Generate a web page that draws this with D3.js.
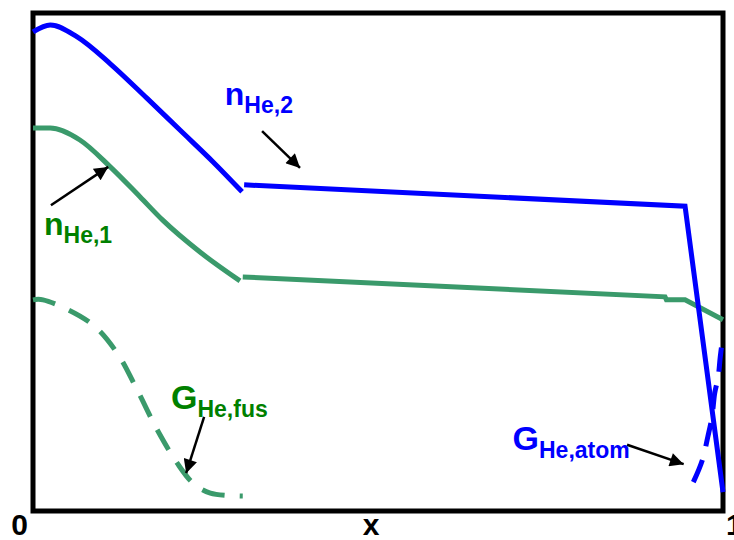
<!DOCTYPE html>
<html>
<head>
<meta charset="utf-8">
<script src="https://cdn.jsdelivr.net/npm/d3@7"></script>
<style>
  body { margin: 0; background: #fff; }
  text { font-family: Arial, "Liberation Sans", sans-serif; font-weight: bold; }
</style>
</head>
<body>
<div id="chart"></div>
<script>
// profiles, x from 0 to 1, y in arbitrary units 0..100
var nHe2_core_x = [0, 0.025, 0.064, 0.112, 0.165, 0.213, 0.261, 0.303];
var nHe2_core_y = [96.2, 97.6, 95.2, 89.8, 82.9, 76.5, 70.1, 64.1];
var nHe2_edge_x = [0.306, 0.945, 1.0];
var nHe2_edge_y = [65.5, 61.2, 3.8];

var nHe1_core_x = [0, 0.025, 0.068, 0.112, 0.155, 0.188, 0.242, 0.300];
var nHe1_core_y = [76.9, 76.9, 74.5, 69.1, 63.1, 58.4, 52.0, 46.2];
var nHe1_edge_x = [0.304, 0.916, 0.918, 0.945, 1.0];
var nHe1_edge_y = [47.0, 43.0, 42.4, 42.4, 38.4];

var gFus_x = [0, 0.0145, 0.083, 0.122, 0.151, 0.180, 0.209, 0.232, 0.257, 0.304];
var gFus_y = [42.4, 42.4, 37.8, 31.7, 24.3, 16.3, 9.6, 5.6, 3.6, 3.0];

var gAtom_x = [0.957, 0.970, 0.978, 0.984, 0.988, 0.993, 0.996, 1.0];
var gAtom_y = [5.8, 10.2, 14.9, 18.9, 23.7, 26.9, 30.9, 35.3];

// labels: main letter, subscript, anchor (data units)
var labelMain = ["n", "n", "G", "G"];
var labelSub = ["He,2", "He,1", "He,fus", "He,atom"];
var labelX = [0.278, 0.016, 0.200, 0.695];
var labelY = [81.5, 55.4, 20.5, 12.2];

// arrows from label to curve (data units)
var arrowX1 = [0.332, 0.026, 0.248, 0.861];
var arrowY1 = [76.3, 61.4, 18.9, 13.3];
var arrowX2 = [0.387, 0.109, 0.222, 0.943];
var arrowY2 = [68.9, 69.1, 7.6, 9.4];

var axisLabels = ["0", "x", "1"];
var axisLabelX = [0, 0.49, 1];

var blue = "#0000ff", green = "#3a9a6b", textGreen = "#008000";

var svg = d3.select("#chart").append("svg")
    .attr("width", 734)
    .attr("height", 540);

var x = d3.scaleLinear().domain([0, 1]).range([33, 723]);
var y = d3.scaleLinear().domain([0, 100]).range([511, 13]);

function pts(xs, ys) {
  return xs.map(function(d, i) { return [d, ys[i]]; });
}

var smooth = d3.line()
    .curve(d3.curveMonotoneX)
    .x(function(d) { return x(d[0]); })
    .y(function(d) { return y(d[1]); });

var dashed = d3.line()
    .curve(d3.curveCatmullRom)
    .x(function(d) { return x(d[0]); })
    .y(function(d) { return y(d[1]); });

var straight = d3.line()
    .x(function(d) { return x(d[0]); })
    .y(function(d) { return y(d[1]); });

// frame
svg.append("rect")
    .attr("x", x(0)).attr("y", y(100))
    .attr("width", x(1) - x(0)).attr("height", y(0) - y(100))
    .attr("fill", "none")
    .attr("stroke", "#000")
    .attr("stroke-width", 5);

// arrow head
svg.append("defs").append("marker")
    .attr("id", "head")
    .attr("viewBox", "0 0 10 10")
    .attr("refX", 10).attr("refY", 5)
    .attr("markerWidth", 6).attr("markerHeight", 5.5)
    .attr("markerUnits", "strokeWidth")
    .attr("orient", "auto")
  .append("path")
    .attr("d", "M0,0L10,5L0,10z")
    .attr("fill", "#000");

// curves
svg.append("path").attr("d", dashed(pts(gFus_x, gFus_y)))
    .attr("fill", "none").attr("stroke", green).attr("stroke-width", 5)
    .attr("stroke-dasharray", "23,15");

svg.append("path").attr("d", smooth(pts(nHe1_core_x, nHe1_core_y)))
    .attr("fill", "none").attr("stroke", green).attr("stroke-width", 5);
svg.append("path").attr("d", straight(pts(nHe1_edge_x, nHe1_edge_y)))
    .attr("fill", "none").attr("stroke", green).attr("stroke-width", 5);

svg.append("path").attr("d", dashed(pts(gAtom_x, gAtom_y)))
    .attr("fill", "none").attr("stroke", blue).attr("stroke-width", 5)
    .attr("stroke-dasharray", "24,14");

svg.append("path").attr("d", smooth(pts(nHe2_core_x, nHe2_core_y)))
    .attr("fill", "none").attr("stroke", blue).attr("stroke-width", 5);
svg.append("path").attr("d", straight(pts(nHe2_edge_x, nHe2_edge_y)))
    .attr("fill", "none").attr("stroke", blue).attr("stroke-width", 5)
    .attr("stroke-linejoin", "miter");

// arrows
arrowX1.forEach(function(d, i) {
  svg.append("line")
      .attr("x1", x(d)).attr("y1", y(arrowY1[i]))
      .attr("x2", x(arrowX2[i])).attr("y2", y(arrowY2[i]))
      .attr("stroke", "#000").attr("stroke-width", 2.5)
      .attr("marker-end", "url(#head)");
});

// labels
var labelColor = [blue, textGreen, textGreen, blue];
labelMain.forEach(function(d, i) {
  var t = svg.append("text")
      .attr("x", x(labelX[i])).attr("y", y(labelY[i]))
      .attr("fill", labelColor[i]);
  t.append("tspan").attr("font-size", d == "G" ? 34 : 32).text(d);
  t.append("tspan").attr("font-size", 23).attr("dy", 8).text(labelSub[i]);
});

// axis labels
var anchors = ["end", "middle", "start"];
var shifts = [-5, 0, 3];
axisLabels.forEach(function(d, i) {
  svg.append("text")
      .attr("x", x(axisLabelX[i]) + shifts[i]).attr("y", 535)
      .attr("text-anchor", anchors[i])
      .attr("font-size", 30)
      .text(d);
});
</script>
</body>
</html>
